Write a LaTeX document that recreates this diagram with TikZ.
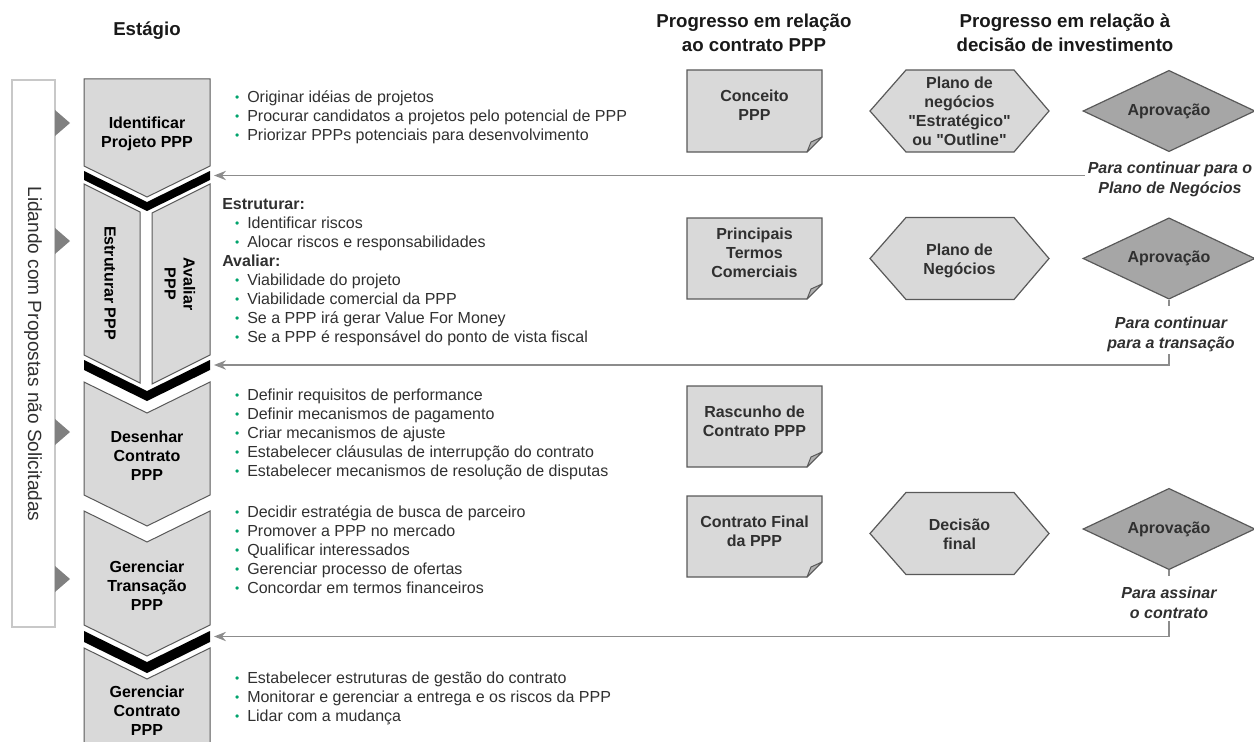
\documentclass[tikz,border=0pt]{standalone}
\usepackage{fontspec}
\setmainfont{Liberation Sans}[Ligatures=TeXOff]
\usetikzlibrary{arrows.meta,shapes.geometric}
\definecolor{stagefill}{HTML}{D9D9D9}
\definecolor{edgegray}{HTML}{595959}
\definecolor{dmdfill}{HTML}{A6A6A6}
\definecolor{bgreen}{HTML}{00A36C}
\definecolor{txtgray}{HTML}{303030}
\definecolor{conngray}{HTML}{8C8C8C}
\definecolor{trigray}{HTML}{808080}
\definecolor{foldgray}{HTML}{B0B0B0}
\definecolor{sideedge}{HTML}{8C8C8C}
\definecolor{sidemid}{HTML}{C8C8C8}
\newcommand\tp{\rule{0pt}{1.2em}}
\newcommand\bitem{\makebox[18.75pt][l]{\hspace*{9.6pt}\textcolor{bgreen}{\fontsize{9}{9}\selectfont\raisebox{0.8pt}{•}}}}
\newcommand\docshape[2]{%
  \path[docbox] (687,#1) -- (822,#1) -- (822,#2-15) -- (807,#2) -- (687,#2) -- cycle;
  \path[foldbox] (822,#2-15) -- (811,#2-10) -- (807,#2) -- cycle;}
\newcommand\hexshape[1]{%
  \path[hexbox] (870,#1) -- (906,#1-41) -- (1014,#1-41) -- (1049,#1) -- (1014,#1+41) -- (906,#1+41) -- cycle;}
\begin{document}
\begin{tikzpicture}[x=0.75pt,y=-0.75pt,
  stagebox/.style={fill=stagefill,draw=edgegray,line width=0.75pt,line join=miter},
  docbox/.style={fill=stagefill,draw=edgegray,line width=0.9pt,line join=miter},
  foldbox/.style={fill=foldgray,draw=edgegray,line width=0.75pt,line join=round},
  hexbox/.style={fill=stagefill,draw=edgegray,line width=0.9pt,line join=miter},
  stagelbl/.style={font=\fontsize{12}{14.25}\selectfont\bfseries,text=black,inner sep=0pt,align=center},
  shapelbl/.style={font=\fontsize{12}{14.25}\selectfont\bfseries,text=txtgray,inner sep=0pt,align=center,anchor=north},
  blist/.style={font=\fontsize{12}{14.25}\selectfont,text=txtgray,inner sep=0pt,align=left,anchor=north west},
  hdr/.style={font=\fontsize{14}{18}\selectfont\bfseries,text=black!90,inner sep=0pt,align=center,anchor=north},
  sidetext/.style={font=\fontsize{14.3}{16}\selectfont,text=txtgray,inner sep=0pt},
  dmd/.style={diamond,aspect=2.1,fill=dmdfill,draw=edgegray,line width=0.9pt,minimum width=129pt,minimum height=61pt,inner sep=0pt,font=\fontsize{12}{14.25}\selectfont\bfseries,text=txtgray},
  lbl/.style={font=\fontsize{12}{15}\selectfont\bfseries\itshape,text=txtgray,inner sep=2pt,align=center,anchor=north,fill=white},
  conn/.style={draw=conngray,line width=1.1pt,-{Stealth[length=9pt,width=7pt,inset=3pt]}},
  trimark/.style={fill=trigray}
]
\useasboundingbox (0,0) rectangle (1254,742);
\clip (0,0) rectangle (1254,742);

% headers
\node[hdr] (hstage) at (147,12.6) {\tp Estágio};
\node[hdr] (hcontract) at (754,4.6) {\tp Progresso em relação\\ao contrato PPP};
\node[hdr] (hinvest) at (1065,4.6) {\tp Progresso em relação à\\decisão de investimento};

% left side box
\draw[draw=sideedge,double=sidemid,double distance=1pt,line width=0.6pt] (12,80) rectangle (55,627);
\node[sidetext,rotate=-90] (side) at (33,354) {Lidando com Propostas não Solicitadas};
\foreach \c in {123,241,432,579} \fill[trimark] (55,\c-13) -- (70,\c) -- (55,\c+13) -- cycle;

% stages
\path[stagebox] (84,79) -- (210,79) -- (210,166) -- (147,197) -- (84,166) -- cycle;
\fill[black] (84,171) -- (147,202) -- (210,171) -- (210,180) -- (147,211) -- (84,180) -- cycle;
\path[stagebox] (84,184) -- (140,212) -- (140,383) -- (84,355) -- cycle;
\path[stagebox] (152,213) -- (210,184) -- (210,355) -- (152,384) -- cycle;
\fill[black] (84,360) -- (147,391) -- (210,360) -- (210,370) -- (147,401) -- (84,370) -- cycle;
\path[stagebox] (84,382) -- (147,413) -- (210,382) -- (210,495) -- (147,526) -- (84,495) -- cycle;
\path[stagebox] (84,511) -- (147,542) -- (210,511) -- (210,625) -- (147,656) -- (84,625) -- cycle;
\fill[black] (84,631) -- (147,662) -- (210,631) -- (210,642) -- (147,673) -- (84,642) -- cycle;
\path[stagebox] (84,648) -- (147,679) -- (210,648) -- (210,760) -- (84,760) -- cycle;

\node[stagelbl,anchor=north] (st1) at (147,108.8) {\tp Identificar\\Projeto PPP};
\node[stagelbl,rotate=-90] (st2a) at (110,283) {Estruturar PPP};
\node[stagelbl,rotate=-90] (st2b) at (180,284) {Avaliar\\PPP};
\node[stagelbl,anchor=north] (st3) at (147,422.8) {\tp Desenhar\\Contrato\\PPP};
\node[stagelbl,anchor=north] (st4) at (147,552.8) {\tp Gerenciar\\Transação\\PPP};
\node[stagelbl,anchor=north] (st5) at (147,677.8) {\tp Gerenciar\\Contrato\\PPP};

% bullet lists
\node[blist] (bl1) at (222,82.8) {\tp\bitem Originar idéias de projetos\\
\bitem Procurar candidatos a projetos pelo potencial de PPP\\
\bitem Priorizar PPPs potenciais para desenvolvimento};
\node[blist] (bl2) at (222,189.8) {\tp\textbf{Estruturar:}\\
\bitem Identificar riscos\\
\bitem Alocar riscos e responsabilidades\\
\textbf{Avaliar:}\\
\bitem Viabilidade do projeto\\
\bitem Viabilidade comercial da PPP\\
\bitem Se a PPP irá gerar Value For Money\\
\bitem Se a PPP é responsável do ponto de vista fiscal};
\node[blist] (bl3) at (222,381.3) {\tp\bitem Definir requisitos de performance\\
\bitem Definir mecanismos de pagamento\\
\bitem Criar mecanismos de ajuste\\
\bitem Estabelecer cláusulas de interrupção do contrato\\
\bitem Estabelecer mecanismos de resolução de disputas};
\node[blist] (bl4) at (222,497.8) {\tp\bitem Decidir estratégia de busca de parceiro\\
\bitem Promover a PPP no mercado\\
\bitem Qualificar interessados\\
\bitem Gerenciar processo de ofertas\\
\bitem Concordar em termos financeiros};
\node[blist] (bl5) at (222,663.8) {\tp\bitem Estabelecer estruturas de gestão do contrato\\
\bitem Monitorar e gerenciar a entrega e os riscos da PPP\\
\bitem Lidar com a mudança};

% documents
\docshape{70}{152}
\docshape{218}{299}
\docshape{386}{467}
\docshape{496}{577}
\node[shapelbl] (d1) at (754.5,82.1) {\tp Conceito\\PPP};
\node[shapelbl] (d2) at (754.5,220.1) {\tp Principais\\Termos\\Comerciais};
\node[shapelbl] (d3) at (754.5,398.1) {\tp Rascunho de\\Contrato PPP};
\node[shapelbl] (d4) at (754.5,508.1) {\tp Contrato Final\\da PPP};

% hexagons
\hexshape{111}
\hexshape{258.5}
\hexshape{533.5}
\node[shapelbl] (x1) at (959.5,69.1) {\tp Plano de\\negócios\\"Estratégico"\\ou "Outline"};
\node[shapelbl] (x2) at (959.5,235.6) {\tp Plano de\\Negócios};
\node[shapelbl] (x3) at (959.5,511.1) {\tp Decisão\\final};

% diamonds
\node[dmd] (ap1) at (1169,111) {Aprovação};
\node[dmd] (ap2) at (1169,258.5) {Aprovação};
\node[dmd] (ap3) at (1169,529) {Aprovação};

% connector end points at the stage bands
\coordinate (c1) at (214,175.5);
\coordinate (c2) at (214,365);
\coordinate (c3) at (214,636.5);

\node[lbl,fill=none] (lab1) at (1170,151) {\tp Para continuar para o\\Plano de Negócios};
\draw[conn] (lab1.west |- c1) -- (c1);
\draw[conn] (ap2.south) -- (ap2.south |- c2) -- (c2);
\node[lbl] (lab2) at (1171,306) {\tp Para continuar\\para a transação};
\draw[conn] (ap3.south) -- (ap3.south |- c3) -- (c3);
\node[lbl] (lab3) at (1169,576) {\tp Para assinar\\o contrato};
\end{tikzpicture}
\end{document}
